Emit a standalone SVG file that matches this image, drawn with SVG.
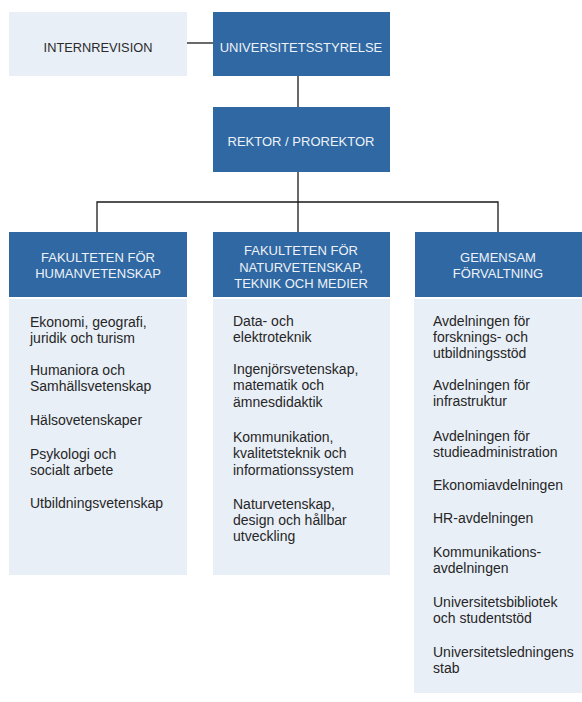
<svg xmlns="http://www.w3.org/2000/svg" width="582" height="702" viewBox="0 0 582 702">
<style>
.dark{fill:#2f68a2}
.light{fill:#e9eff7}
.ht{font-family:"Liberation Sans",Arial,sans-serif;font-size:13px;fill:#eef2f8;text-anchor:middle}
.lt{font-family:"Liberation Sans",Arial,sans-serif;font-size:12.8px;fill:#2b2b2b;text-anchor:middle}
.bt{font-family:"Liberation Sans",Arial,sans-serif;font-size:14px;fill:#262626}
.cn{stroke:#1a1a1a;stroke-width:1.3;fill:none}
</style>
<rect width="582" height="702" fill="#ffffff"/>
<g id="connectors">
<line class="cn" x1="187" y1="43" x2="213" y2="43" stroke="#555"/>
<line class="cn" x1="298" y1="76" x2="298" y2="107"/>
<line class="cn" x1="298" y1="172" x2="298" y2="202"/>
<polyline class="cn" points="97,232 97,202 498,202 498,232"/>
<line class="cn" x1="298" y1="202" x2="298" y2="232"/>
</g>
<g id="internrevision">
<rect class="light" x="9" y="12" width="178" height="64"/>
<text class="lt" x="98" y="52">INTERNREVISION</text>
</g>
<g id="universitetsstyrelse">
<rect class="dark" x="213" y="12" width="177" height="64"/>
<text class="ht" x="301" y="52">UNIVERSITETSSTYRELSE</text>
</g>
<g id="rektor">
<rect class="dark" x="213" y="107" width="177" height="65"/>
<text class="ht" x="301" y="146">REKTOR / PROREKTOR</text>
</g>
<g id="fak-human">
<rect class="dark" x="9" y="232" width="178" height="65"/>
<text class="ht" x="98" y="262">FAKULTETEN FÖR</text>
<text class="ht" x="98" y="278">HUMANVETENSKAP</text>
</g>
<g id="fak-human-list">
<rect class="light" x="9" y="299" width="178" height="276"/>
<text class="bt" x="30" y="327">Ekonomi, geografi,</text>
<text class="bt" x="30" y="343">juridik och turism</text>
<text class="bt" x="30" y="375">Humaniora och</text>
<text class="bt" x="30" y="391">Samhällsvetenskap</text>
<text class="bt" x="30" y="425">Hälsovetenskaper</text>
<text class="bt" x="30" y="459">Psykologi och</text>
<text class="bt" x="30" y="475">socialt arbete</text>
<text class="bt" x="30" y="508">Utbildningsvetenskap</text>
</g>
<g id="fak-natur">
<rect class="dark" x="213" y="232" width="177" height="65"/>
<text class="ht" x="301" y="255">FAKULTETEN FÖR</text>
<text class="ht" x="301" y="272">NATURVETENSKAP,</text>
<text class="ht" x="301" y="288">TEKNIK OCH MEDIER</text>
</g>
<g id="fak-natur-list">
<rect class="light" x="213" y="299" width="177" height="276"/>
<text class="bt" x="233" y="326">Data- och</text>
<text class="bt" x="233" y="342">elektroteknik</text>
<text class="bt" x="233" y="374">Ingenjörsvetenskap,</text>
<text class="bt" x="233" y="390">matematik och</text>
<text class="bt" x="233" y="407">ämnesdidaktik</text>
<text class="bt" x="233" y="442">Kommunikation,</text>
<text class="bt" x="233" y="458">kvalitetsteknik och</text>
<text class="bt" x="233" y="475">informationssystem</text>
<text class="bt" x="233" y="509">Naturvetenskap,</text>
<text class="bt" x="233" y="525">design och hållbar</text>
<text class="bt" x="233" y="541">utveckling</text>
</g>
<g id="gemensam">
<rect class="dark" x="415" y="232" width="167" height="65"/>
<text class="ht" x="498" y="262">GEMENSAM</text>
<text class="ht" x="498" y="278">FÖRVALTNING</text>
</g>
<g id="gemensam-list">
<rect class="light" x="414" y="299" width="168" height="394"/>
<text class="bt" x="433" y="326">Avdelningen för</text>
<text class="bt" x="433" y="342">forsknings- och</text>
<text class="bt" x="433" y="358">utbildningsstöd</text>
<text class="bt" x="433" y="390">Avdelningen för</text>
<text class="bt" x="433" y="406">infrastruktur</text>
<text class="bt" x="433" y="441">Avdelningen för</text>
<text class="bt" x="433" y="457">studieadministration</text>
<text class="bt" x="433" y="490">Ekonomiavdelningen</text>
<text class="bt" x="433" y="523">HR-avdelningen</text>
<text class="bt" x="433" y="557">Kommunikations-</text>
<text class="bt" x="433" y="573">avdelningen</text>
<text class="bt" x="433" y="607">Universitetsbibliotek</text>
<text class="bt" x="433" y="623">och studentstöd</text>
<text class="bt" x="433" y="657">Universitetsledningens</text>
<text class="bt" x="433" y="673">stab</text>
</g>
</svg>
